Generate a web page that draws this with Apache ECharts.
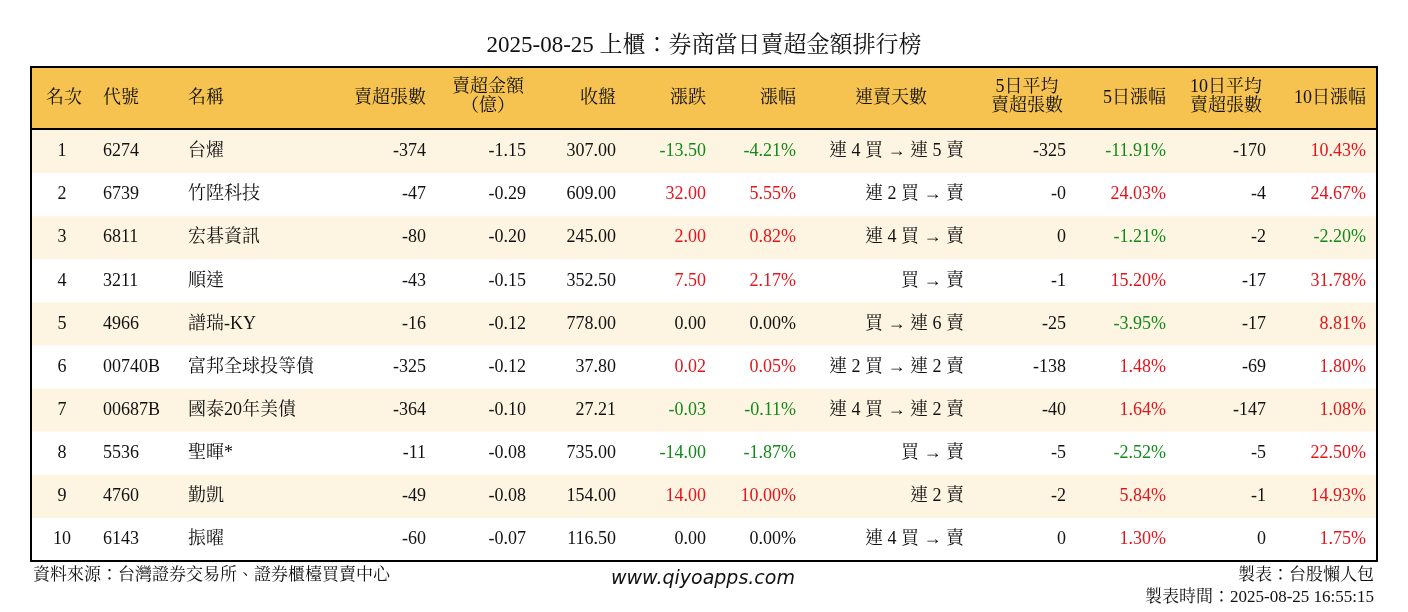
<!DOCTYPE html>
<html><head><meta charset="utf-8">
<script src="https://cdn.jsdelivr.net/npm/echarts@6/dist/echarts.min.js"></script>
<style>html,body{margin:0;padding:0;background:#fff}#c{width:1408px;height:612px}</style>
</head><body><div id="c"></div>
<script>
const title = '2025-08-25 上櫃：券商當日賣超金額排行榜';
const headers = ['名次','代號','名稱','賣超張數','賣超金額\n（億）','收盤','漲跌','漲幅','連賣天數','5日平均\n賣超張數','5日漲幅','10日平均\n賣超張數','10日漲幅'];
const ranks = ['1','2','3','4','5','6','7','8','9','10'];
const codes = ['6274','6739','6811','3211','4966','00740B','00687B','5536','4760','6143'];
const names = ['台燿','竹陞科技','宏碁資訊','順達','譜瑞-KY','富邦全球投等債','國泰20年美債','聖暉*','勤凱','振曜'];
const sellLots = ['-374','-47','-80','-43','-16','-325','-364','-11','-49','-60'];
const sellAmt = ['-1.15','-0.29','-0.20','-0.15','-0.12','-0.12','-0.10','-0.08','-0.08','-0.07'];
const closes = ['307.00','609.00','245.00','352.50','778.00','37.80','27.21','735.00','154.00','116.50'];
const changes = ['-13.50','32.00','2.00','7.50','0.00','0.02','-0.03','-14.00','14.00','0.00'];
const changePct = ['-4.21%','5.55%','0.82%','2.17%','0.00%','0.05%','-0.11%','-1.87%','10.00%','0.00%'];
const streaks = ['連 4 買 → 連 5 賣','連 2 買 → 賣','連 4 買 → 賣','買 → 賣','買 → 連 6 賣','連 2 買 → 連 2 賣','連 4 買 → 連 2 賣','買 → 賣','連 2 賣','連 4 買 → 賣'];
const avg5 = ['-325','-0','0','-1','-25','-138','-40','-5','-2','0'];
const pct5 = ['-11.91%','24.03%','-1.21%','15.20%','-3.95%','1.48%','1.64%','-2.52%','5.84%','1.30%'];
const avg10 = ['-170','-4','-2','-17','-17','-69','-147','-5','-1','0'];
const pct10 = ['10.43%','24.67%','-2.20%','31.78%','8.81%','1.80%','1.08%','22.50%','14.93%','1.75%'];
const footLeft = '資料來源：台灣證券交易所、證券櫃檯買賣中心';
const footMid = 'www.qiyoapps.com';
const footRight1 = '製表：台股懶人包';
const footRight2 = '製表時間：2025-08-25 16:55:15';

const colX  = [31, 72, 157, 395, 495, 585, 675, 765, 933, 1035, 1135, 1235, 1335];
const colAl = ['center','left','left','right','right','right','right','right','right','right','right','right','right'];
const hX  = [33, 72, 157, 395, 457, 585, 675, 765, 860, 996, 1135, 1195, 1335];
const hAl = ['center','left','left','right','center','right','right','right','center','center','right','center','right'];
const colorCols = {6:1,7:1,10:1,11:0,12:1};

const RED='#e3141b', GREEN='#12891a', BLACK='#111';
function col(v){ const n=parseFloat(v); if(n>0) return RED; if(n<0) return GREEN; return BLACK; }
const SERIF = '"Liberation Serif","Noto Serif CJK TC","Noto Sans CJK TC",serif';

const rows = ranks.map((r,i)=>[i, r, codes[i], names[i], sellLots[i], sellAmt[i], closes[i], changes[i], changePct[i], streaks[i], avg5[i], pct5[i], avg10[i], pct10[i]]);

const chart = echarts.init(document.getElementById('c'));
chart.setOption({
  animation:false,
  title:{text:title,left:'center',top:29,textStyle:{fontFamily:SERIF,fontSize:23,fontWeight:'normal',color:'#111'}},
  grid:[{left:31,right:31,top:67,height:62},{left:31,right:31,top:130,bottom:51}],
  xAxis:[{gridIndex:0,type:'value',min:0,max:1346,show:false},{gridIndex:1,type:'value',min:0,max:1346,show:false}],
  yAxis:[{gridIndex:0,type:'category',data:['h'],show:false},{gridIndex:1,type:'category',inverse:true,data:ranks,show:false}],
  series:[
    {type:'custom',xAxisIndex:0,yAxisIndex:0,data:[[0]],renderItem:(p,api)=>{
      const s=api.size([0,1]); const c=api.coord([0,0]); const x0=api.coord([0,0])[0], x1=api.coord([1346,0])[0];
      const ch=[{type:'rect',shape:{x:x0,y:c[1]-s[1]/2,width:x1-x0,height:s[1]},style:{fill:'#f6c250'}}];
      headers.forEach((h,k)=>{ ch.push({type:'text',x:api.coord([hX[k],0])[0],y:c[1]+(h.includes('\n')?-1:0),style:{text:h,align:hAl[k],verticalAlign:'middle',fontFamily:SERIF,fontSize:18,lineHeight:19,fill:'#111'}}); });
      return {type:'group',children:ch};
    }},
    {type:'custom',xAxisIndex:1,yAxisIndex:1,data:rows,renderItem:(p,api)=>{
      const i=p.dataIndex; const d=rows[i]; const s=api.size([0,1]); const c=api.coord([0,i]);
      const x0=api.coord([0,i])[0], x1=api.coord([1346,i])[0];
      const ch=[{type:'rect',shape:{x:x0,y:c[1]-s[1]/2,width:x1-x0,height:s[1]},style:{fill:i%2===0?'#fdf4e1':'#ffffff'}}];
      for(let k=0;k<13;k++){ const v=d[k+1]; const f=(k in colorCols && colorCols[k])?col(v):BLACK;
        ch.push({type:'text',x:api.coord([colX[k],i])[0],y:c[1],style:{text:v,align:colAl[k],verticalAlign:'middle',fontFamily:SERIF,fontSize:18,fill:f}}); }
      return {type:'group',children:ch};
    }}
  ],
  graphic:[
    {type:'rect',shape:{x:31,y:67,width:1346,height:494},style:{fill:'none',stroke:'#000',lineWidth:2},z:100},
    {type:'line',shape:{x1:31,y1:129,x2:1377,y2:129},style:{stroke:'#000',lineWidth:2},z:100},
    {type:'text',left:33,top:567,style:{text:footLeft,font:'17px '+SERIF,fill:'#111'}},
    {type:'text',left:611,top:570,style:{text:footMid,font:'italic 19px "DejaVu Sans",sans-serif',fill:'#111'}},
    {type:'text',right:34,top:567,style:{text:footRight1,font:'17px '+SERIF,fill:'#111'}},
    {type:'text',right:34,top:589,style:{text:footRight2,font:'17px '+SERIF,fill:'#111'}}
  ]
});
</script></body></html>
